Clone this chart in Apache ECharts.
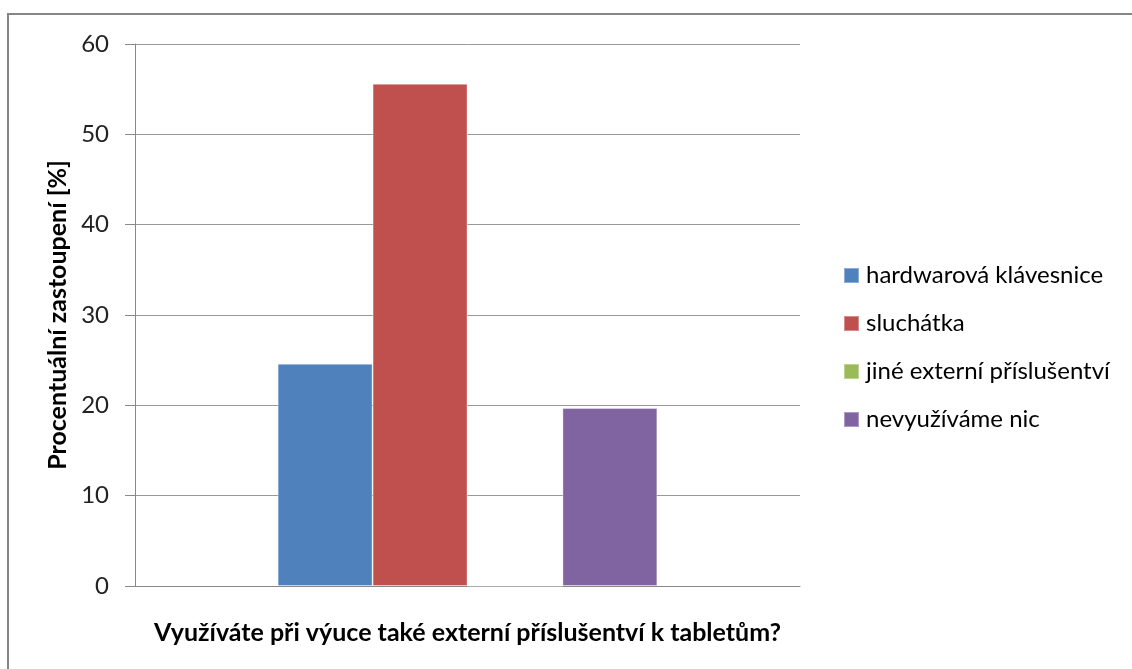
<!DOCTYPE html>
<html>
<head>
<meta charset="utf-8">
<script src="https://cdn.jsdelivr.net/npm/echarts@6/dist/echarts.min.js"></script>
<style>html,body{margin:0;padding:0;background:#fff;}#c{width:1132px;height:669px;}</style>
</head>
<body>
<div id="c"></div>
<script>
const categories = [''];
const seriesNames = ['hardwarová klávesnice', 'sluchátka', 'jiné externí příslušentví', 'nevyužíváme nic'];
const hardwarova = [24.6];
const sluchatka = [55.6];
const jine = [0];
const nevyuzivame = [19.7];
const yTicks = [0, 10, 20, 30, 40, 50, 60];
const colors = ['#4F81BD', '#C0504D', '#9BBB59', '#8064A2'];
const values = [hardwarova, sluchatka, jine, nevyuzivame];

const chart = echarts.init(document.getElementById('c'));
const font = 'Lato, "Open Sans", sans-serif';
chart.setOption({
  animation: false,
  backgroundColor: '#fff',
  color: colors,
  graphic: [{
    type: 'rect', shape: {x: 8, y: 14, width: 1200, height: 1000},
    style: {fill: 'none', stroke: '#868686', lineWidth: 2}, silent: true, z: -1
  }],
  grid: {left: 135, right: 332, top: 44, bottom: 83},
  legend: {
    orient: 'vertical', left: 843, top: 263, padding: 0,
    itemWidth: 15, itemHeight: 15, itemGap: 23, icon: 'rect',
    textStyle: {fontFamily: font, fontSize: 24, color: '#000', lineHeight: 25, padding: [0, 0, 0, 2]},
    data: seriesNames
  },
  xAxis: {
    type: 'category', data: categories,
    name: 'Využíváte při výuce také externí příslušentví k tabletům?',
    nameLocation: 'middle', nameGap: 34,
    nameTextStyle: {fontFamily: font, fontSize: 25, fontWeight: 'bold', color: '#000'},
    axisLine: {lineStyle: {color: '#888', width: 1}},
    axisTick: {show: false},
    axisLabel: {show: false}
  },
  yAxis: {
    type: 'value', min: yTicks[0], max: yTicks[yTicks.length - 1], interval: 10,
    name: 'Procentuální zastoupení [%]',
    nameLocation: 'middle', nameGap: 62,
    nameTextStyle: {fontFamily: font, fontSize: 25, fontWeight: 'bold', color: '#000'},
    axisLine: {show: true, lineStyle: {color: '#888', width: 1}},
    axisTick: {show: true, length: 10, inside: false, lineStyle: {color: '#888'}},
    axisLabel: {fontFamily: font, fontSize: 24, color: '#222', margin: 26},
    splitLine: {lineStyle: {color: '#999', width: 1}}
  },
  series: seriesNames.map((n, i) => ({
    name: n, type: 'bar', data: values[i],
    barGap: '0%', barCategoryGap: '42.9%',
    itemStyle: {color: colors[i], borderColor: 'rgba(255,255,255,0.35)', borderWidth: 1}
  }))
});
</script>
</body>
</html>
